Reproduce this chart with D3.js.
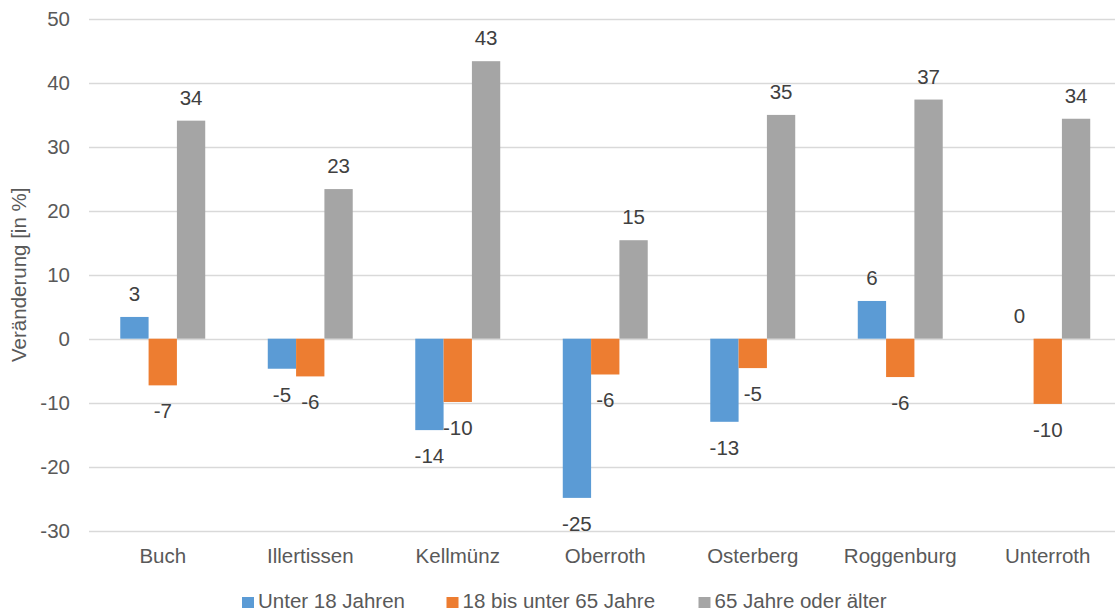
<!DOCTYPE html>
<html>
<head>
<meta charset="utf-8">
<script src="https://cdn.jsdelivr.net/npm/d3@7"></script>
<style>
  body { margin: 0; background: #fff; overflow: hidden; }
  text { font-family: "Liberation Sans", Arial, sans-serif; }
</style>
</head>
<body>
<div id="container"></div>
<script>
// data
var categories = ["Buch", "Illertissen", "Kellmünz", "Oberroth", "Osterberg", "Roggenburg", "Unterroth"];
var seriesNames = ["Unter 18 Jahren", "18 bis unter 65 Jahre", "65 Jahre oder älter"];
var under18 = [3.4, -4.7, -14.3, -24.9, -13.0, 5.9, 0];
var middle = [-7.3, -5.9, -9.9, -5.6, -4.6, -6.0, -10.2];
var over65 = [34.1, 23.4, 43.4, 15.4, 35.0, 37.4, 34.4];
var yTicks = [-30, -20, -10, 0, 10, 20, 30, 40, 50];
var colors = ["#5b9bd5", "#ed7d31", "#a5a5a5"];

var w = 1115, h = 612;
var fs = 20.5;
var svg = d3.select("#container").append("svg")
    .attr("width", w).attr("height", h);

// plot area runs a little past the right edge of the picture
var plotLeft = 89, plotRight = 1121.5, plotTop = 19, plotBottom = 530.5;

var x = d3.scaleBand()
    .domain(categories)
    .range([plotLeft, plotRight])
    .paddingInner(0.424)
    .paddingOuter(0.212);

var xs = d3.scaleBand()
    .domain(seriesNames)
    .range([0, x.bandwidth()]);

var y = d3.scaleLinear()
    .domain([-30, 50])
    .range([plotBottom, plotTop]);

function fmt(v) { return String(Math.round(v)); }

// gridlines
svg.append("g")
  .selectAll("line")
  .data(yTicks)
  .enter().append("line")
    .attr("x1", plotLeft)
    .attr("x2", plotRight)
    .attr("y1", function(d) { return Math.round(y(d)) + 0.5; })
    .attr("y2", function(d) { return Math.round(y(d)) + 0.5; })
    .attr("stroke", "#d9d9d9")
    .attr("stroke-width", 1.3);

// y axis labels
var yAxis = svg.append("g")
    .attr("transform", "translate(70,0)")
    .call(d3.axisLeft(y).tickValues(yTicks).tickFormat(fmt).tickSize(0).tickPadding(0));
yAxis.select(".domain").remove();
yAxis.selectAll("text")
    .attr("font-size", fs)
    .attr("fill", "#595959")
    .style("font-family", "Liberation Sans, Arial, sans-serif");

// x axis labels
var xAxis = svg.append("g")
    .attr("transform", "translate(0," + (y(-30) + 18) + ")")
    .call(d3.axisBottom(x).tickSize(0).tickPadding(0));
xAxis.select(".domain").remove();
xAxis.selectAll("text")
    .attr("font-size", fs)
    .attr("fill", "#595959")
    .style("font-family", "Liberation Sans, Arial, sans-serif");

// y title
svg.append("text")
    .attr("transform", "translate(26," + y(10) + ") rotate(-90)")
    .attr("text-anchor", "middle")
    .attr("font-size", fs)
    .attr("fill", "#595959")
    .text("Veränderung [in %]");

// bars
var table = categories.map(function(c, i) {
  return {cat: c, vals: [under18[i], middle[i], over65[i]]};
});

var groups = svg.append("g")
  .selectAll("g")
  .data(table)
  .enter().append("g")
    .attr("transform", function(d) { return "translate(" + x(d.cat) + ",0)"; });

groups.selectAll("rect")
  .data(function(d) { return d.vals.map(function(v, j) { return {v: v, s: j}; }); })
  .enter().append("rect")
    .attr("x", function(d) { return xs(seriesNames[d.s]); })
    .attr("width", xs.bandwidth())
    .attr("y", function(d) { return Math.min(y(d.v), y(0)); })
    .attr("height", function(d) { return Math.abs(y(d.v) - y(0)); })
    .attr("fill", function(d) { return colors[d.s]; });

// data labels, outside end
groups.selectAll("text")
  .data(function(d) { return d.vals.map(function(v, j) { return {v: v, s: j}; }); })
  .enter().append("text")
    .attr("x", function(d) { return xs(seriesNames[d.s]) + xs.bandwidth() / 2; })
    .attr("y", function(d) { return d.v >= 0 ? y(d.v) - 16 : y(d.v) + 33; })
    .attr("text-anchor", "middle")
    .attr("font-size", fs)
    .attr("fill", "#404040")
    .text(function(d) { return fmt(d.v); });

// legend
var legendX = [242, 446.5, 698.5];
var legend = svg.append("g")
  .selectAll("g")
  .data(seriesNames)
  .enter().append("g")
    .attr("transform", function(d, i) { return "translate(" + legendX[i] + ",597)"; });
legend.append("rect")
    .attr("width", 12).attr("height", 11)
    .attr("fill", function(d, i) { return colors[i]; });
legend.append("text")
    .attr("x", 16).attr("y", 11)
    .attr("font-size", fs)
    .attr("fill", "#595959")
    .text(function(d) { return d; });
</script>
</body>
</html>
